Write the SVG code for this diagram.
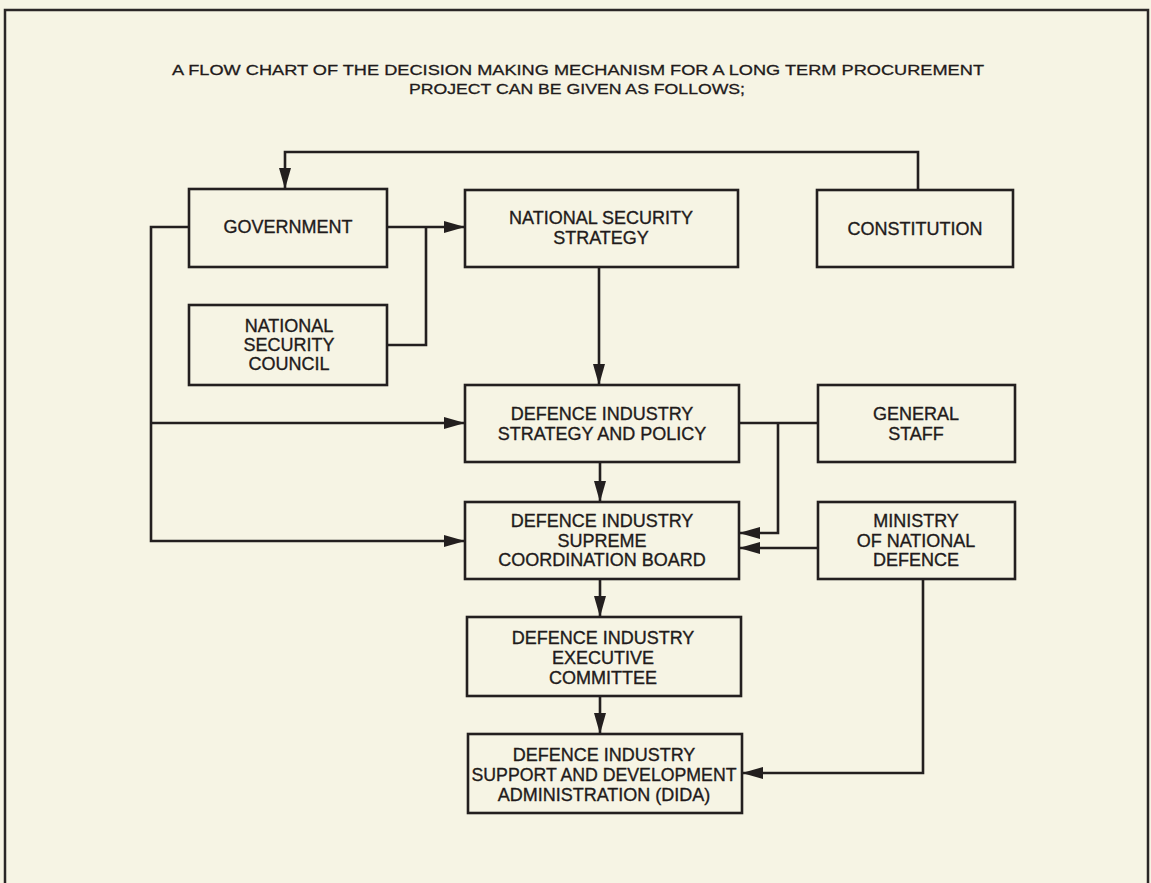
<svg xmlns="http://www.w3.org/2000/svg" width="1151" height="883" viewBox="0 0 1151 883">
  <style>
    .bg { fill: #f6f4e4; }
    .frame { fill: none; stroke: #2a2626; stroke-width: 2.5; }
    .box { fill: none; stroke: #231f1f; stroke-width: 2.6; }
    .lbl { font-family: "Liberation Sans", Arial, sans-serif; font-size: 18px; fill: #1f1b1b; stroke: #1f1b1b; stroke-width: 0.35; text-anchor: middle; dominant-baseline: central; }
    .title { font-family: "Liberation Sans", Arial, sans-serif; font-size: 15px; fill: #1f1b1b; stroke: #1f1b1b; stroke-width: 0.3; text-anchor: middle; dominant-baseline: central; }
    .wire { fill: none; stroke: #231f1f; stroke-width: 2.6; stroke-linejoin: miter; }
    .arrow { marker-end: url(#head); }
  </style>
  <defs>
    <marker id="head" viewBox="0 0 21 12" refX="21" refY="6" markerWidth="21" markerHeight="12" markerUnits="userSpaceOnUse" orient="auto">
      <path d="M0,0 L21,6 L0,12 Z" fill="#231f1f"/>
    </marker>
  </defs>

  <rect class="bg" x="0" y="0" width="1151" height="883"/>
  <!-- page frame (open at the bottom) -->
  <path class="frame" d="M5,883 V10 H1148 V883"/>

  <!-- heading -->
  <g id="title">
    <text class="title" x="578" y="69" textLength="812" lengthAdjust="spacingAndGlyphs">A FLOW CHART OF THE DECISION MAKING MECHANISM FOR A LONG TERM PROCUREMENT</text>
    <text class="title" x="577" y="88" textLength="336" lengthAdjust="spacingAndGlyphs">PROJECT CAN BE GIVEN AS FOLLOWS;</text>
  </g>

  <!-- connectors -->
  <g id="connectors">
    <!-- constitution back to government -->
    <path class="wire arrow" d="M918,190 V152 H285 V189"/>
    <!-- government to national security strategy -->
    <path class="wire arrow" d="M387,227 H465"/>
    <!-- national security council joins the same feed -->
    <path class="wire" d="M387,345 H426 V227"/>
    <!-- government down the left side -->
    <path class="wire arrow" d="M189,227 H151 V541 H465"/>
    <path class="wire arrow" d="M151,423 H465"/>
    <!-- main vertical chain -->
    <path class="wire arrow" d="M599,267 V385"/>
    <path class="wire arrow" d="M600,462 V502"/>
    <path class="wire arrow" d="M600,579 V617"/>
    <path class="wire arrow" d="M600,696 V734"/>
    <!-- general staff link -->
    <path class="wire" d="M739,423 H818"/>
    <path class="wire arrow" d="M778,423 V533 H739"/>
    <!-- ministry of national defence -->
    <path class="wire arrow" d="M818,548 H739"/>
    <path class="wire arrow" d="M923,579 V773 H742"/>
  </g>

  <g id="government">
    <rect class="box" x="189" y="189" width="198" height="78"/>
    <text class="lbl" x="288" y="227">GOVERNMENT</text>
  </g>

  <g id="national-security-council">
    <rect class="box" x="189" y="305" width="198" height="80"/>
    <text class="lbl" x="289" y="326">NATIONAL</text>
    <text class="lbl" x="289" y="345">SECURITY</text>
    <text class="lbl" x="289" y="364">COUNCIL</text>
  </g>

  <g id="national-security-strategy">
    <rect class="box" x="465" y="190" width="273" height="77"/>
    <text class="lbl" x="601" y="218">NATIONAL SECURITY</text>
    <text class="lbl" x="601" y="238">STRATEGY</text>
  </g>

  <g id="constitution">
    <rect class="box" x="817" y="190" width="196" height="77"/>
    <text class="lbl" x="915" y="229">CONSTITUTION</text>
  </g>

  <g id="strategy-and-policy">
    <rect class="box" x="465" y="385" width="274" height="77"/>
    <text class="lbl" x="602" y="414">DEFENCE INDUSTRY</text>
    <text class="lbl" x="602" y="434">STRATEGY AND POLICY</text>
  </g>

  <g id="general-staff">
    <rect class="box" x="818" y="385" width="197" height="77"/>
    <text class="lbl" x="916" y="414">GENERAL</text>
    <text class="lbl" x="916" y="434">STAFF</text>
  </g>

  <g id="supreme-coordination-board">
    <rect class="box" x="465" y="502" width="274" height="77"/>
    <text class="lbl" x="602" y="521">DEFENCE INDUSTRY</text>
    <text class="lbl" x="602" y="541">SUPREME</text>
    <text class="lbl" x="602" y="560">COORDINATION BOARD</text>
  </g>

  <g id="ministry-of-national-defence">
    <rect class="box" x="818" y="502" width="197" height="77"/>
    <text class="lbl" x="916" y="521">MINISTRY</text>
    <text class="lbl" x="916" y="541">OF NATIONAL</text>
    <text class="lbl" x="916" y="560">DEFENCE</text>
  </g>

  <g id="executive-committee">
    <rect class="box" x="467" y="617" width="274" height="79"/>
    <text class="lbl" x="603" y="638">DEFENCE INDUSTRY</text>
    <text class="lbl" x="603" y="658">EXECUTIVE</text>
    <text class="lbl" x="603" y="678">COMMITTEE</text>
  </g>

  <g id="dida">
    <rect class="box" x="468" y="734" width="274" height="79"/>
    <text class="lbl" x="604" y="755">DEFENCE INDUSTRY</text>
    <text class="lbl" x="604" y="775" textLength="265" lengthAdjust="spacingAndGlyphs">SUPPORT AND DEVELOPMENT</text>
    <text class="lbl" x="604" y="795">ADMINISTRATION (DIDA)</text>
  </g>
</svg>
